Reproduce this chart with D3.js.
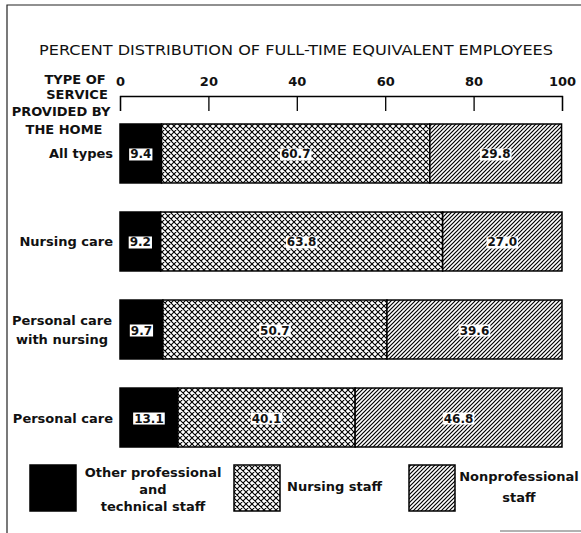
<!DOCTYPE html>
<html>
<head>
<meta charset="utf-8">
<script src="https://cdn.jsdelivr.net/npm/d3@7"></script>
<style>
body { margin: 0; background: #fff; }
text { font-family: "DejaVu Sans", sans-serif; fill: #111; }
</style>
</head>
<body>
<svg id="chart" width="581" height="533"></svg>
<script>
// data
var categories = ["All types", "Nursing care", "Personal care\nwith nursing", "Personal care"];
var otherProf = [9.4, 9.2, 9.7, 13.1];
var nursingStaff = [60.7, 63.8, 50.7, 40.1];
var nonProf = [29.8, 27.0, 39.6, 46.8];
var tickValues = [0, 20, 40, 60, 80, 100];
var keys = ["other", "nursing", "nonprof"];
var legendLabels = [["Other professional", "and", "technical staff"], ["Nursing staff"], ["Nonprofessional", "staff"]];
var headerLines = ["TYPE OF", "SERVICE", "PROVIDED BY", "THE HOME"];
var title = "PERCENT DISTRIBUTION OF FULL-TIME EQUIVALENT EMPLOYEES";

var svg = d3.select("#chart");

var rows = categories.map((c, i) => ({
  label: c, other: otherProf[i], nursing: nursingStaff[i], nonprof: nonProf[i]
}));

// patterns
var defs = svg.append("defs");
var cross = defs.append("pattern")
  .attr("id", "cross")
  .attr("patternUnits", "userSpaceOnUse")
  .attr("width", 6).attr("height", 6);
cross.append("rect").attr("width", 6).attr("height", 6).attr("fill", "#fff");
cross.append("path")
  .attr("d", "M0,0L6,6M6,0L0,6M-1,5L1,7M5,-1L7,1M-1,1L1,-1M5,7L7,5")
  .attr("stroke", "#000").attr("stroke-width", 1.1);

var diag = defs.append("pattern")
  .attr("id", "diag")
  .attr("patternUnits", "userSpaceOnUse")
  .attr("width", 4).attr("height", 4);
diag.append("rect").attr("width", 4).attr("height", 4).attr("fill", "#fff");
diag.append("path")
  .attr("d", "M-1,1L1,-1M0,4L4,0M3,5L5,3")
  .attr("stroke", "#000").attr("stroke-width", 1.2);

var fills = { other: "#000", nursing: "url(#cross)", nonprof: "url(#diag)" };

// frame
svg.append("path")
  .attr("d", "M7,533V5H581")
  .attr("fill", "none").attr("stroke", "#222").attr("stroke-width", 1.2);
svg.append("line")
  .attr("x1", 500).attr("x2", 581).attr("y1", 531).attr("y2", 531)
  .attr("stroke", "#999").attr("stroke-width", 1.5);

// title
svg.append("text")
  .attr("x", 296).attr("y", 55)
  .attr("text-anchor", "middle")
  .attr("textLength", 514)
  .attr("lengthAdjust", "spacingAndGlyphs")
  .style("font-size", "14px")
  .text(title);

// scales
var x = d3.scaleLinear().domain([0, 100]).range([120, 562]);
var y = d3.scaleBand().domain(categories).range([124, 447]).paddingInner(0.33);

// axis on top, ticks pointing down
var axis = svg.append("g")
  .attr("transform", "translate(0,96)")
  .call(d3.axisTop(x).tickValues(tickValues).tickSizeInner(-15).tickSizeOuter(-15).tickPadding(10));
axis.select(".domain").attr("stroke", "#000").attr("stroke-width", 1.3);
axis.selectAll(".tick line").attr("stroke", "#000").attr("stroke-width", 1.3);
axis.selectAll(".tick text")
  .style("font-family", "DejaVu Sans").style("font-size", "13px").style("font-weight", "bold")
  .attr("fill", "#111");

// header on the left
var headerX = [75, 77, 61, 64];
var headerY = [84, 99, 116, 134];
svg.selectAll(".hdr")
  .data(headerLines)
  .enter().append("text")
  .attr("class", "hdr")
  .attr("x", (d, i) => headerX[i])
  .attr("y", (d, i) => headerY[i])
  .attr("text-anchor", "middle")
  .style("font-size", "13px").style("font-weight", "bold")
  .text(d => d);

// stacked bars
var stack = d3.stack().keys(keys)(rows);

svg.selectAll(".layer")
  .data(stack)
  .enter().append("g")
  .attr("class", "layer")
  .attr("fill", d => fills[d.key])
  .selectAll("rect")
  .data(d => d)
  .enter().append("rect")
  .attr("x", d => x(d[0]))
  .attr("y", d => y(d.data.label))
  .attr("width", d => x(d[1]) - x(d[0]))
  .attr("height", y.bandwidth())
  .attr("stroke", "#000")
  .attr("stroke-width", 1.5);

// value labels with white box
stack.forEach(layer => {
  layer.forEach(d => {
    var g = svg.append("g");
    var t = g.append("text")
      .attr("x", x((d[0] + d[1]) / 2))
      .attr("y", y(d.data.label) + y.bandwidth() / 2 + 5)
      .attr("text-anchor", "middle")
      .style("font-size", "12px").style("font-weight", "bold")
      .text(d3.format(".1f")(d[1] - d[0]));
    var b = t.node().getBBox();
    g.insert("rect", "text")
      .attr("x", b.x - 1).attr("y", b.y + 1)
      .attr("width", b.width + 2).attr("height", b.height - 2)
      .attr("fill", "#fff");
  });
});

// row labels
rows.forEach(r => {
  var lines = r.label.split("\n");
  var cy = y(r.label) + y.bandwidth() / 2;
  var t = svg.append("text")
    .attr("text-anchor", lines.length > 1 ? "middle" : "end")
    .style("font-size", "13px").style("font-weight", "bold");
  lines.forEach((l, i) => {
    t.append("tspan")
      .attr("x", lines.length > 1 ? 62 : 113)
      .attr("y", cy + 5 + (i - (lines.length - 1) / 2) * 19)
      .text(l);
  });
});

// legend
var legendBoxX = [30, 234, 409];
var legendTextX = [153, 287, 519];
var legendTextY = [[477, 494, 511], [491], [481, 502]];
var legend = svg.selectAll(".legend")
  .data(keys)
  .enter().append("g")
  .attr("class", "legend");

legend.append("rect")
  .attr("x", (d, i) => legendBoxX[i])
  .attr("y", 465)
  .attr("width", 46).attr("height", 46)
  .attr("fill", d => fills[d])
  .attr("stroke", "#000").attr("stroke-width", 1.5);

legend.each(function(d, i) {
  var t = d3.select(this).append("text")
    .attr("text-anchor", i == 1 ? "start" : "middle")
    .style("font-size", "13px").style("font-weight", "bold");
  legendLabels[i].forEach((l, j) => {
    t.append("tspan").attr("x", legendTextX[i]).attr("y", legendTextY[i][j]).text(l);
  });
});
</script>
</body>
</html>
